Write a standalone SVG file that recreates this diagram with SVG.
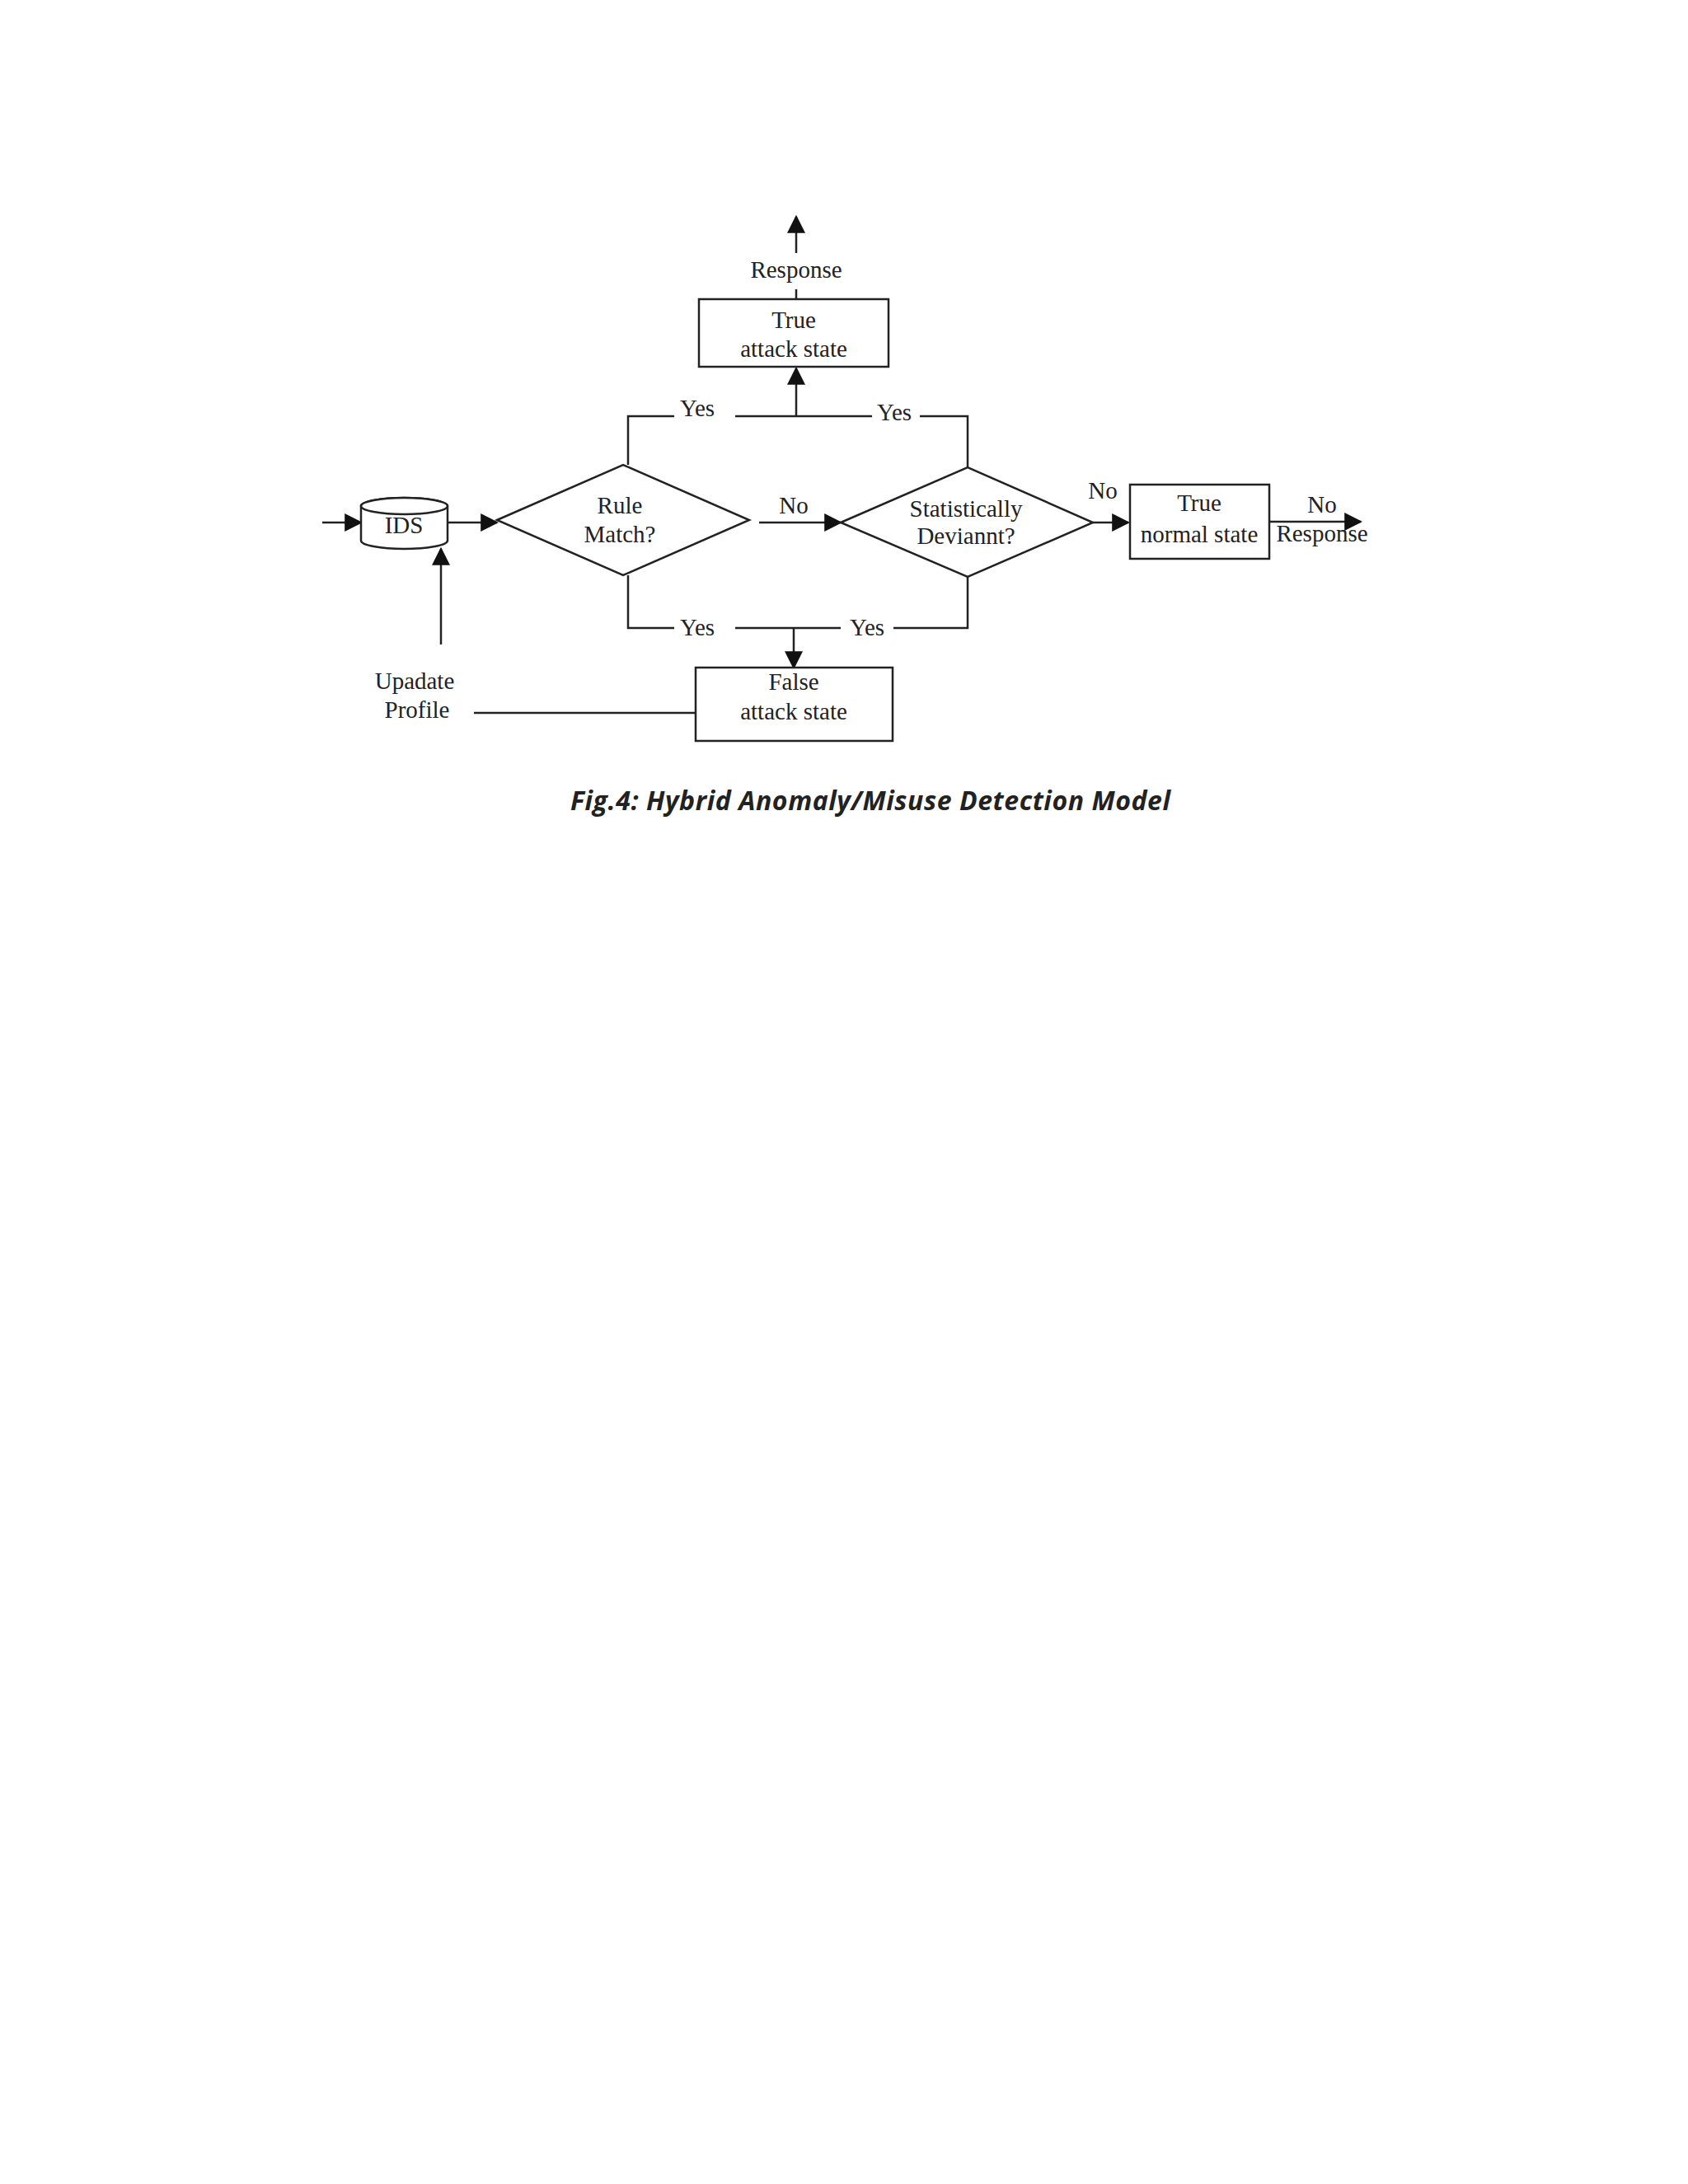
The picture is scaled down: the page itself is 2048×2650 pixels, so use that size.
<svg xmlns="http://www.w3.org/2000/svg" width="2048" height="2650" viewBox="0 0 2048 2650">
<style>
.t{font-family:"Liberation Serif",serif;font-size:29px;fill:#222;text-anchor:middle}
.s{fill:#fff;stroke:#222;stroke-width:2.5}
.l{fill:none;stroke:#222;stroke-width:2.5}
</style>
<defs>
<marker id="b" viewBox="0 0 10 10" refX="9" refY="5" markerWidth="22" markerHeight="22" orient="auto" markerUnits="userSpaceOnUse"><path d="M0,0L10,5L0,10z" fill="#111"/></marker></defs>
<rect width="2048" height="2650" fill="#fff"/>
<g transform="translate(6,7)">
<g id="connectors">
<line class="l" x1="960" y1="344" x2="960" y2="356"/>
<line class="l" x1="960" y1="300" x2="960" y2="256" marker-end="url(#b)"/>
<path class="l" d="M756 557V498H812M886 498H1052M1110 498H1168V560"/>
<line class="l" x1="960" y1="498" x2="960" y2="440" marker-end="url(#b)"/>
<line class="l" x1="385" y1="627" x2="432" y2="627" marker-end="url(#b)"/>
<line class="l" x1="537" y1="627" x2="597" y2="627" marker-end="url(#b)"/>
<line class="l" x1="915" y1="627" x2="1014" y2="627" marker-end="url(#b)"/>
<line class="l" x1="1320" y1="627" x2="1363" y2="627" marker-end="url(#b)"/>
<line class="l" x1="1534" y1="626" x2="1645" y2="626" stroke-width="4" marker-end="url(#b)"/>
<path class="l" d="M756 691V755H812M886 755H1014M1078 755H1168V693"/>
<line class="l" x1="957" y1="755" x2="957" y2="803" marker-end="url(#b)"/>
<line class="l" x1="569" y1="858" x2="838" y2="858"/>
<line class="l" x1="529" y1="775" x2="529" y2="659" marker-end="url(#b)"/>
</g>
<g id="response"><text class="t" x="960" y="330">Response</text></g>
<g id="trueAttack"><rect class="s" x="842" y="356" width="230" height="82"/><text class="t" x="957" y="391">True</text><text class="t" x="957" y="426">attack state</text></g>
<g id="ids"><path class="s" d="M432 607V649A52.5 10 0 0 0 537 649V607A52.5 10 0 0 0 432 607Z"/><ellipse class="s" cx="484.5" cy="607" rx="52.5" ry="10"/><text class="t" x="484" y="640">IDS</text></g>
<g id="rule"><polygon class="s" points="597,624 750,557 903,624 750,691"/><text class="t" x="746" y="616">Rule</text><text class="t" x="746" y="651">Match?</text></g>
<g id="stat"><polygon class="s" points="1014,627 1168,560 1320,627 1168,693"/><text class="t" x="1166" y="620">Statistically</text><text class="t" x="1166" y="653">Deviannt?</text></g>
<g id="trueNormal"><rect class="s" x="1365" y="581" width="169" height="90"/><text class="t" x="1449" y="613">True</text><text class="t" x="1449" y="651">normal state</text></g>
<g id="falseAttack"><rect class="s" x="838" y="803" width="239" height="89"/><text class="t" x="957" y="830">False</text><text class="t" x="957" y="866">attack state</text></g>
<g id="labels">
<text class="t" x="840" y="498">Yes</text><text class="t" x="1079" y="503">Yes</text>
<text class="t" x="957" y="616">No</text><text class="t" x="1332" y="598">No</text>
<text class="t" x="1598" y="615">No</text><text class="t" x="1598" y="650">Response</text>
<text class="t" x="840" y="764">Yes</text><text class="t" x="1046" y="764">Yes</text>
<text class="t" x="497" y="829">Upadate</text><text class="t" x="500" y="864">Profile</text>
</g>
<text x="1050" y="976" font-family="'Open Sans',sans-serif" font-size="32" font-weight="bold" font-style="italic" fill="#222" text-anchor="middle" textLength="728">Fig.4: Hybrid Anomaly/Misuse Detection Model</text>
</g>
</svg>
